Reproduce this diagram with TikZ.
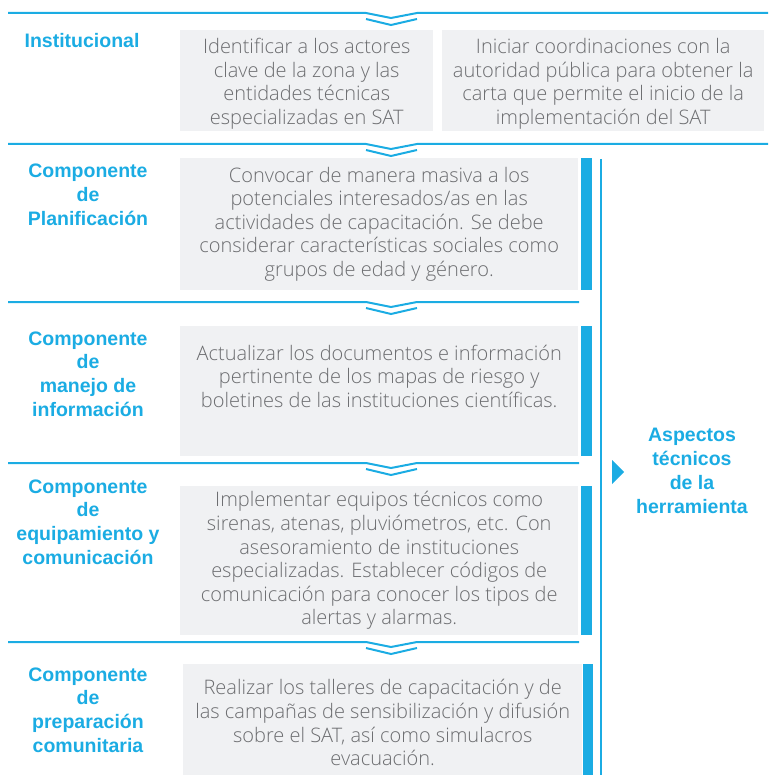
\documentclass[tikz,border=0pt]{standalone}
\usepackage{fontspec}
\setmainfont{Liberation Sans}
\newfontfamily\bodyfont{Open Sans Light}
\definecolor{satblue}{RGB}{27,172,227}
\definecolor{boxgray}{RGB}{240,241,243}
\definecolor{txtgray}{RGB}{108,109,112}
\tikzset{
  graybox/.style={fill=boxgray, inner sep=0pt, anchor=north west},
  bodytext/.style={text=txtgray, align=center, font=\bodyfont\fontsize{20}{23.6}\selectfont},
  comptitle/.style={text=satblue, align=center, font=\bfseries\fontsize{19.5}{23.8}\selectfont},
  sep/.style={draw=satblue, line width=2pt}
}
\begin{document}
\begin{tikzpicture}[x=1pt, y=-1pt]
\useasboundingbox (0,0) rectangle (768,775);

% separators with chevrons
\foreach \yy/\xe in {13/768, 144/768, 302/579, 463/579, 642/579} {
  \draw[sep] (8,\yy) -- (366,\yy) -- (391,\yy+5) -- (417,\yy) -- (\xe,\yy);
  \draw[sep] (366,\yy+6) -- (391,\yy+12) -- (417,\yy+6);
}

% gray boxes
\node[graybox, minimum width=253, minimum height=101] (boxA) at (180,30) {};
\node[graybox, minimum width=322, minimum height=101] (boxB) at (442,30) {};
\node[graybox, minimum width=398, minimum height=132] (boxPlan) at (180,158) {};
\node[graybox, minimum width=398, minimum height=130] (boxInfo) at (180,326) {};
\node[graybox, minimum width=398, minimum height=149] (boxEquip) at (180,486) {};
\node[graybox, minimum width=399, minimum height=111] (boxPrep) at (183,664) {};

% blue bars
\fill[satblue] (581,158) rectangle (592,290);
\fill[satblue] (581,326) rectangle (592,456);
\fill[satblue] (581,486) rectangle (592,635);
\fill[satblue] (583,664) rectangle (593,775);

% texts in boxes
\node[bodytext] (tA) at ([yshift=-3pt]boxA.center) {Identificar a los actores\\clave de la zona y las\\entidades técnicas\\especializadas en SAT};
\node[bodytext] (tB) at ([yshift=-3pt]boxB.center) {Iniciar coordinaciones con la\\autoridad pública para obtener la\\carta que permite el inicio de la\\implementación del SAT};
\node[bodytext] (tPlan) at (boxPlan.center) {Convocar de manera masiva a los\\potenciales interesados/as en las\\actividades de capacitación. Se debe\\considerar características sociales como\\grupos de edad y género.};
\node[bodytext] (tInfo) at ([yshift=15pt]boxInfo.center) {Actualizar los documentos e información\\pertinente de los mapas de riesgo y\\boletines de las instituciones científicas.};
\node[bodytext] (tEquip) at (boxEquip.center) {Implementar equipos técnicos como\\sirenas, atenas, pluviómetros, etc. Con\\asesoramiento de instituciones\\especializadas. Establecer códigos de\\comunicación para conocer los tipos de\\alertas y alarmas.};
\node[bodytext] (tPrep) at ([yshift=-3pt]boxPrep.center) {Realizar los talleres de capacitación y de\\las campañas de sensibilización y difusión\\sobre el SAT, así como simulacros\\evacuación.};

% left titles
\node[comptitle] (cInst) at (82,41) {Institucional};
\node[comptitle] (cPlan) at (88,195) {Componente\\de\\Planificación};
\node[comptitle] (cInfo) at (88,374) {Componente\\de\\manejo de\\información};
\node[comptitle] (cEquip) at (88,522) {Componente\\de\\equipamiento y\\comunicación};
\node[comptitle] (cPrep) at (88,710) {Componente\\de\\preparación\\comunitaria};

% right side
\draw[satblue, line width=2pt] (601,159) -- (601,775);
\fill[satblue] (612,460) -- (624,472) -- (612,484) -- cycle;
\node[comptitle] (aspectos) at (692,471) {Aspectos\\técnicos\\de la\\herramienta};

\end{tikzpicture}
\end{document}
